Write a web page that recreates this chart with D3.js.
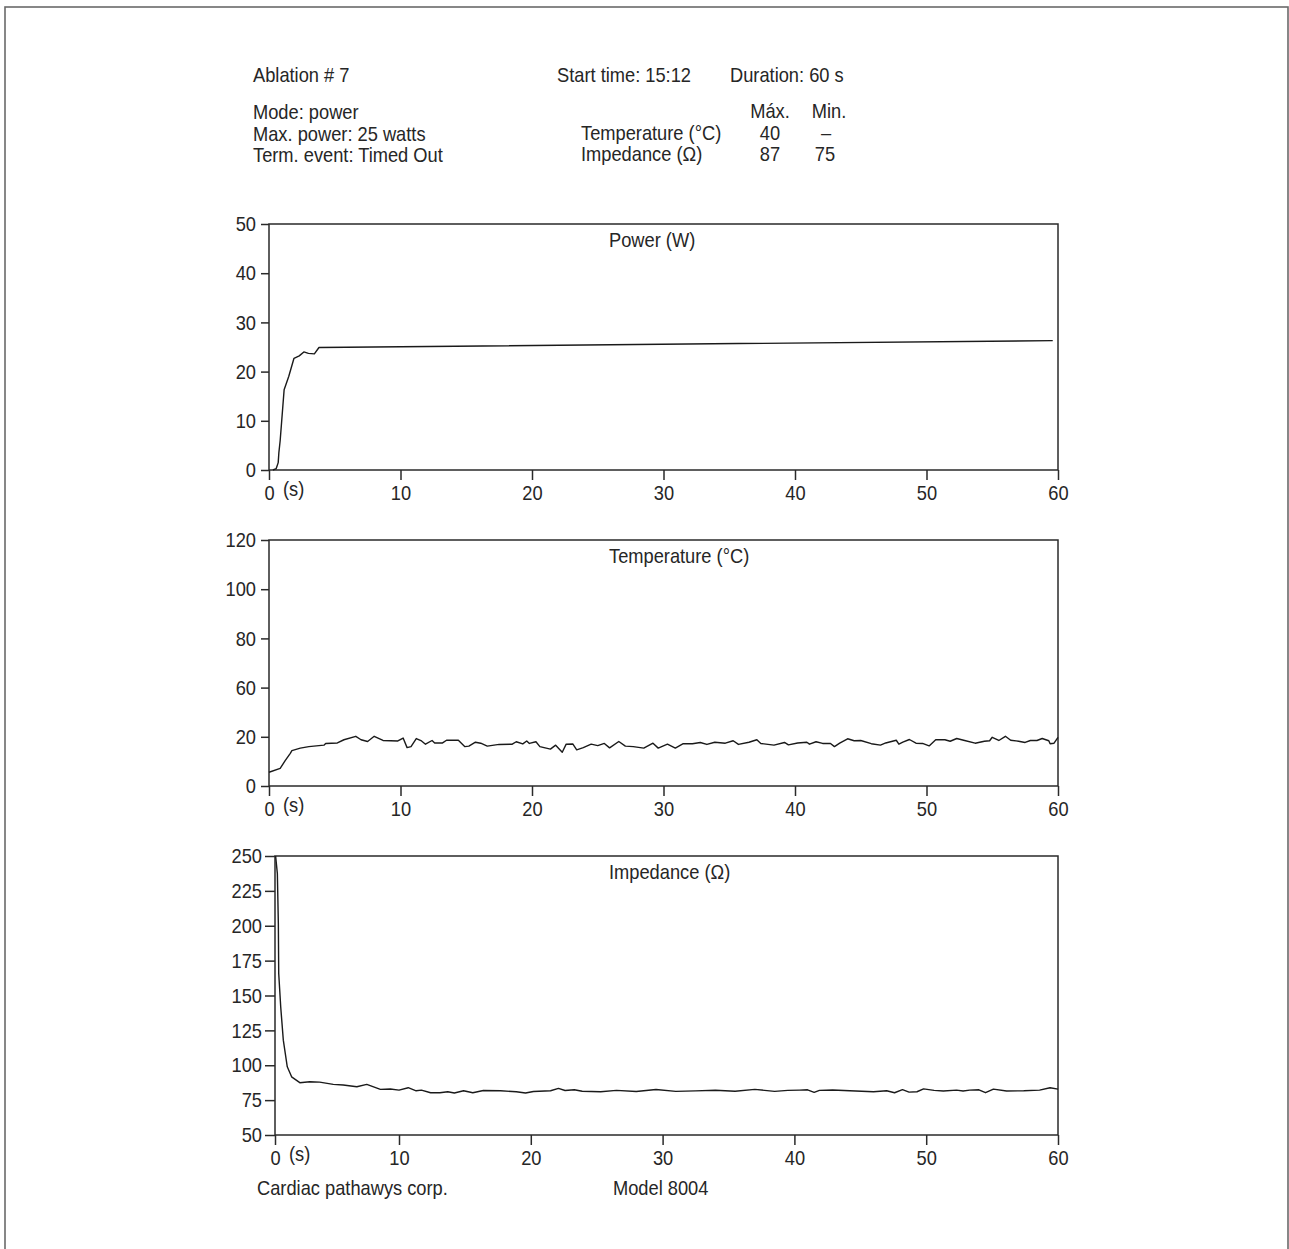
<!DOCTYPE html>
<html><head><meta charset="utf-8">
<script src="https://cdn.jsdelivr.net/npm/d3@7"></script>
<style>
body{margin:0;background:#fff}
svg text{font-family:'Liberation Sans',Arial,Helvetica,sans-serif;fill:#262626;font-size:21px}
</style></head><body>
<svg id="c" width="1289" height="1249"></svg>
<script>
// ---------- data ----------
const xTicks = [0, 10, 20, 30, 40, 50, 60];
const powerTicks = [0, 10, 20, 30, 40, 50];
const tempTicks = [0, 20, 60, 80, 100, 120];
const impTicks = [50, 75, 100, 125, 150, 175, 200, 225, 250];

const powerT = [0.3, 0.55, 0.7, 0.75, 0.85, 1.15, 1.5, 1.9, 2.3, 2.65, 3.0, 3.45, 3.8, 59.6];
const powerV = [0, 0.3, 1.5, 3.5, 6, 16.3, 19, 22.7, 23.2, 24, 23.7, 23.6, 24.9, 26.3];

const tempT = [0, 0.85, 1.23, 1.62, 1.74, 2.38, 3.03, 4.18, 4.31, 5.2, 5.7, 6.6, 7.0, 7.5, 8.0, 8.67, 9.8, 10.2, 10.5, 10.8,
  11.2, 11.6, 11.9, 12.4, 12.6, 13.2, 13.5, 14.4, 14.9, 15.2, 15.7, 16.1, 16.6, 17.5, 18.5, 18.8, 19.3, 19.6, 19.8, 20.3,
  20.6, 21.4, 21.8, 22.3, 22.6, 23.1, 23.4, 23.9, 24.5, 25.0, 25.5, 25.9, 26.6, 27.1, 27.7, 28.5, 29.2, 29.6, 30.3, 30.9,
  31.5, 32.2, 32.8, 33.3, 33.9, 34.7, 35.3, 35.7, 36.5, 37.1, 37.4, 38.4, 39.2, 39.5, 40.2, 40.9, 41.1, 41.6, 42.1, 42.7,
  43.0, 43.4, 44.0, 44.5, 45.0, 45.8, 46.5, 46.9, 47.7, 47.9, 48.2, 48.7, 49.2, 49.7, 50.2, 50.7, 51.4, 51.8, 52.3, 52.9,
  53.7, 54.4, 54.8, 55.0, 55.5, 56.0, 56.4, 57.0, 57.5, 57.9, 58.4, 58.8, 59.3, 59.4, 59.7, 60.0];
const tempV = [5.6, 7.2, 10.3, 13.3, 14.4, 15.4, 16.0, 16.6, 17.3, 17.5, 18.8, 20.4, 18.8, 18.1, 20.4, 18.5, 18.3, 19.5, 15.6, 16.0,
  19.3, 18.3, 17.0, 18.5, 17.5, 17.5, 18.6, 18.6, 16.0, 16.2, 17.8, 17.4, 16.2, 16.9, 17.0, 18.0, 17.1, 18.3, 17.3, 18.0,
  16.0, 15.0, 16.6, 13.7, 17.0, 17.1, 14.7, 15.6, 17.0, 16.4, 17.3, 15.5, 18.1, 16.2, 16.0, 15.4, 17.4, 15.4, 17.0, 15.4,
  17.2, 17.2, 17.7, 16.9, 17.8, 17.4, 18.4, 16.9, 17.8, 18.8, 17.3, 16.6, 17.7, 16.7, 17.5, 17.8, 17.0, 18.0, 17.3, 17.3,
  16.0, 17.4, 19.2, 18.4, 18.5, 17.2, 16.6, 17.5, 18.6, 17.0, 17.8, 18.9, 17.4, 17.3, 16.3, 18.8, 18.8, 18.2, 19.3, 18.5,
  17.4, 18.2, 18.4, 19.8, 18.5, 20.4, 18.6, 18.2, 17.7, 18.5, 18.5, 19.3, 18.4, 17.2, 17.4, 19.8];

const impT = [0.05, 0.19, 0.27, 0.3, 0.46, 0.67, 0.99, 1.34, 2.0, 2.8, 3.6, 4.7, 5.5, 6.6, 7.4, 8.5, 9.3, 10.0, 10.7, 11.3,
  11.7, 12.4, 13.1, 13.7, 14.2, 14.9, 15.6, 16.4, 17.7, 18.9, 19.6, 20.2, 21.5, 22.1, 22.6, 23.3, 23.9, 25.3, 26.5, 28.0,
  29.5, 31.0, 32.5, 34.0, 35.5, 37.0, 38.5, 39.5, 40.4, 41.0, 41.5, 41.9, 42.9, 44.2, 46.0, 47.0, 47.6, 48.2, 48.7, 49.3,
  49.8, 50.6, 51.3, 52.3, 52.8, 53.3, 54.0, 54.5, 55.1, 56.1, 57.4, 58.6, 59.4, 60.0];
const impV = [250, 237.4, 201.6, 165.8, 141.9, 118, 98.9, 91.7, 87.5, 88.2, 87.9, 86.3, 85.8, 84.6, 86.3, 82.7, 83.0, 82.2, 83.9, 81.7,
  82.2, 80.3, 80.3, 81.0, 80.1, 81.7, 80.3, 81.9, 81.7, 81.0, 80.1, 81.2, 81.7, 83.4, 81.9, 82.4, 81.4, 81.0, 82.0, 81.2,
  82.6, 81.3, 81.6, 82.1, 81.4, 82.7, 81.3, 82.0, 82.2, 82.4, 80.6, 82.0, 82.3, 81.7, 81.0, 81.7, 80.3, 82.5, 80.7, 81.0,
  83.1, 82.0, 81.5, 82.2, 81.5, 82.2, 82.4, 80.3, 82.9, 81.5, 81.7, 82.2, 83.9, 82.9];

const powerTitle = "Power (W)", tempTitle = "Temperature (°C)", impTitle = "Impedance (Ω)";

// ---------- drawing ----------
const svg = d3.select("#c");
const INK = "#2a2a2a";
const SX = 0.87; // horizontal condensing to mimic a condensed sans

svg.append("rect").attr("x", 5).attr("y", 7).attr("width", 1283).attr("height", 1260)
  .attr("fill", "none").attr("stroke", "#6a6a6a").attr("stroke-width", 1.6);

// header
const header = [
  ["Ablation # 7", 253, 82, "start"],
  ["Mode: power", 253, 119, "start"],
  ["Max. power: 25 watts", 253, 141, "start"],
  ["Term. event: Timed Out", 253, 162, "start"],
  ["Start time: 15:12", 557, 82, "start"],
  ["Duration: 60 s", 730, 82, "start"],
  ["Máx.", 770, 118, "middle"],
  ["Min.", 829, 118, "middle"],
  ["Temperature (°C)", 581, 140, "start"],
  ["Impedance (Ω)", 581, 161, "start"],
  ["40", 770, 140, "middle"],
  ["–", 826, 140, "middle"],
  ["87", 770, 161, "middle"],
  ["75", 825, 161, "middle"],
  ["Cardiac pathawys corp.", 257, 1195, "start"],
  ["Model 8004", 613, 1195, "start"]
];
svg.selectAll("text.hdr").data(header).enter().append("text").attr("class", "hdr")
  .attr("x", d => d[1]).attr("y", d => d[2]).attr("text-anchor", d => d[3]).text(d => d[0]);

function panel(cfg) {
  const x = d3.scaleLinear().domain(cfg.xDomain).range(cfg.xRange);
  const y = d3.scaleLinear().domain(cfg.yDomain).range(cfg.yRange);
  const left = cfg.xRange[0], right = cfg.xRange[cfg.xRange.length - 1];
  const bottom = cfg.yRange[0], top = cfg.yRange[cfg.yRange.length - 1];
  const g = svg.append("g");

  const ya = g.append("g").attr("transform", `translate(${left},0)`)
    .call(d3.axisLeft(y).tickValues(cfg.yTicks).tickSize(cfg.yTickLen).tickPadding(cfg.yPad).tickSizeOuter(0));
  const xa = g.append("g").attr("transform", `translate(0,${bottom})`)
    .call(d3.axisBottom(x).tickValues(xTicks).tickSize(10).tickPadding(5).tickSizeOuter(0));
  [ya, xa].forEach(a => {
    a.attr("font-size", null).attr("font-family", null);
    a.select(".domain").remove();
    a.selectAll("line").attr("stroke", INK).attr("stroke-width", 1.5);
    a.selectAll("text").attr("fill", INK);
  });
  g.append("rect").attr("x", left).attr("y", top).attr("width", right - left).attr("height", bottom - top)
    .attr("fill", "none").attr("stroke", INK).attr("stroke-width", 1.5);

  g.append("text").attr("x", 609).attr("y", top + 23).text(cfg.title);
  g.append("text").attr("x", x(0) + 14).attr("y", bottom + 26).text("(s)");

  const pts = cfg.t.map((t, i) => [t, cfg.v[i]]);
  g.append("path").datum(pts)
    .attr("d", d3.line().x(d => x(d[0])).y(d => y(d[1])))
    .attr("fill", "none").attr("stroke", "#1a1a1a").attr("stroke-width", 1.4).attr("stroke-linejoin", "round");
}

panel({ xDomain: [0, 60], xRange: [269, 1058], yDomain: [0, 50], yRange: [470, 224],
  yTicks: powerTicks, yTickLen: 8, yPad: 5, title: powerTitle, t: powerT, v: powerV });

const tBottom = 786, tTop = 540;
panel({ xDomain: [0, 60], xRange: [269, 1058], yDomain: tempTicks,
  yRange: tempTicks.map((d, i) => tBottom - i * (tBottom - tTop) / (tempTicks.length - 1)),
  yTicks: tempTicks, yTickLen: 8, yPad: 5, title: tempTitle, t: tempT, v: tempV });

panel({ xDomain: [0, 10, 60], xRange: [275, 399, 1058], yDomain: [50, 250], yRange: [1135, 856],
  yTicks: impTicks, yTickLen: 10, yPad: 3, title: impTitle, t: impT, v: impV });

// condense all text horizontally around its own anchor
svg.selectAll("text").each(function () {
  const t = d3.select(this);
  const x = +t.attr("x") || 0, y = +t.attr("y") || 0;
  t.attr("x", 0).attr("y", 0).attr("transform", `translate(${x},${y}) scale(${SX},1)`);
});
</script></body></html>
